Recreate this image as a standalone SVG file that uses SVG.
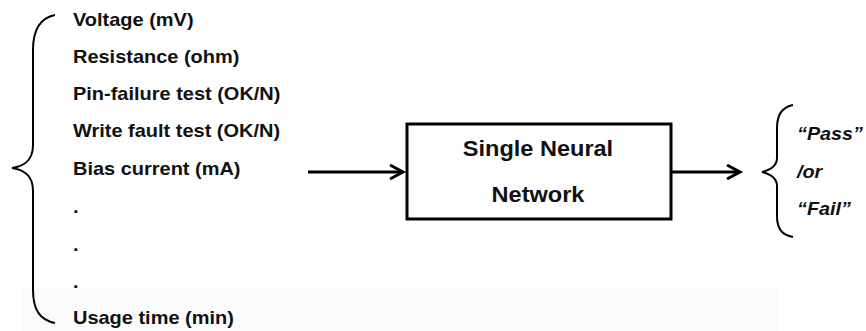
<svg xmlns="http://www.w3.org/2000/svg" width="866" height="331" viewBox="0 0 866 331">
<style>
.lbl{font-family:"Liberation Sans",Arial,sans-serif;font-weight:bold;fill:#111;}
.in{font-size:18px;}
.ctr{font-size:22px;text-anchor:middle;}
.out{font-size:19px;font-style:italic;}
.ln{fill:none;stroke:#000;stroke-width:3;}
.br{fill:none;stroke:#000;stroke-width:2;}
</style>
<rect x="0" y="0" width="866" height="331" fill="#fff"/>
<rect x="22" y="287" width="756" height="44" fill="#fbfbfb"/>
<g id="inputs">
<path class="br" d="M55,15 C40,18 33,30 33,50 L33,145 C33,160 25,166 12,168 C25,170 33,176 33,191 L33,290 C33,310 40,320 55,323"/>
<g transform="translate(73,0) scale(1.11,1)">
<text class="lbl in" x="0" y="26">Voltage (mV)</text>
<text class="lbl in" x="0" y="63">Resistance (ohm)</text>
<text class="lbl in" x="0" y="100">Pin-failure test (OK/N)</text>
<text class="lbl in" x="0" y="137">Write fault test (OK/N)</text>
<text class="lbl in" x="0" y="175">Bias current (mA)</text>
<text class="lbl in" x="0" y="213">.</text>
<text class="lbl in" x="0" y="251">.</text>
<text class="lbl in" x="0" y="288">.</text>
<text class="lbl in" x="0" y="324">Usage time (min)</text>
</g>
</g>
<g id="network">
<rect x="407" y="124" width="264" height="95" fill="#fff" stroke="#000" stroke-width="3"/>
<g transform="translate(538,0) scale(1.07,1)">
<text class="lbl ctr" x="0" y="156.5">Single Neural</text>
<text class="lbl ctr" x="0" y="202">Network</text>
</g>
</g>
<g id="output">
<path class="br" d="M793,105 C782,107 777,115 777,128 L777,158 C777,166 770,170 762,172 C770,174 777,178 777,186 L777,216 C777,229 782,235 793,237"/>
<g transform="translate(797,0) scale(1.04,1)">
<text class="lbl out" x="0" y="140">“Pass”</text>
<text class="lbl out" x="0" y="178">/or</text>
<text class="lbl out" x="0" y="215">“Fail”</text>
</g>
</g>
<g id="connectors">
<line class="ln" x1="308" y1="172" x2="402" y2="172"/>
<polyline class="ln" points="390,165 403,172 390,179"/>
<line class="ln" x1="671" y1="172" x2="739" y2="172"/>
<polyline class="ln" points="727,165 740,172 727,179"/>
</g>
</svg>
